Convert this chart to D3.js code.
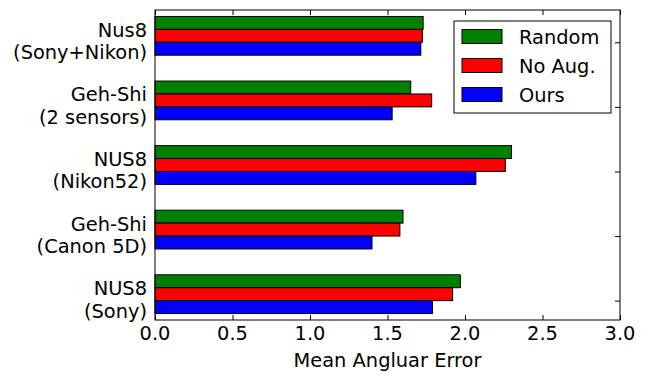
<!DOCTYPE html>
<html>
<head>
<meta charset="utf-8">
<script src="https://cdn.jsdelivr.net/npm/d3@7"></script>
<style>
  body { margin: 0; background: #fff; }
  svg { display: block; overflow: visible; }
  text { font-family: "DejaVu Sans", sans-serif; font-size: 19.4px; fill: #000; }
</style>
</head>
<body>
<div id="chart"></div>
<script>
const width = 645, height = 380;
const margin = { top: 10, right: 25, bottom: 60, left: 155 };
const innerWidth = width - margin.left - margin.right;
const innerHeight = height - margin.top - margin.bottom;

// categories listed bottom to top (matplotlib order)
const categories = [
    ["NUS8", "(Sony)"],
    ["Geh-Shi", "(Canon 5D)"],
    ["NUS8", "(Nikon52)"],
    ["Geh-Shi", "(2 sensors)"],
    ["Nus8", "(Sony+Nikon)"]
];
const seriesNames = ["Random", "No Aug.", "Ours"];
const seriesColours = ["#008000", "#ff0000", "#0000ff"];
const randomVals = [1.97, 1.60, 2.30, 1.65, 1.73];
const noAugVals  = [1.92, 1.58, 2.26, 1.785, 1.725];
const oursVals   = [1.79, 1.40, 2.07, 1.53, 1.715];
const xTicks = [0, 0.5, 1.0, 1.5, 2.0, 2.5, 3.0];

const values = [randomVals, noAugVals, oursVals];
const barH = 0.2;

const svg = d3.select("#chart")
    .append("svg")
    .attr("width", width)
    .attr("height", height);

const inner = svg.append("g")
    .attr("transform", `translate(${margin.left}, ${margin.top})`);

const xScale = d3.scaleLinear().domain([0, 3]).range([0, innerWidth]);
const yScale = d3.scaleLinear().domain([-0.4, 4.4]).range([innerHeight, 0]);

// bars: Random on top, then No Aug., then Ours
values.forEach((vals, s) => {
    inner.append("g")
        .selectAll("rect")
        .data(vals)
        .join("rect")
        .attr("x", xScale(0))
        .attr("y", (d, i) => yScale(i + 0.3 - s * barH))
        .attr("width", d => xScale(d) - xScale(0))
        .attr("height", yScale(0) - yScale(barH))
        .attr("fill", seriesColours[s])
        .attr("stroke", "#000")
        .attr("stroke-width", 1);
});

// tick positions on y (at red/blue boundary)
const yTickVals = categories.map((c, i) => i - 0.1);

// x axes (bottom ticks inward, top ticks only)
const bottomAxis = d3.axisBottom(xScale)
    .tickValues(xTicks)
    .tickFormat("")
    .tickSize(-5);
inner.append("g")
    .attr("transform", `translate(0, ${innerHeight})`)
    .call(bottomAxis)
    .select(".domain").remove();

const topAxis = d3.axisTop(xScale).tickValues(xTicks).tickFormat("").tickSize(-5);
inner.append("g").call(topAxis).select(".domain").remove();

// x tick labels
inner.append("g")
    .selectAll("text")
    .data(xTicks)
    .join("text")
    .attr("x", d => xScale(d))
    .attr("y", innerHeight + 20)
    .attr("text-anchor", "middle")
    .text(d3.format(".1f"));

// y axes
const leftAxis = d3.axisLeft(yScale).tickValues(yTickVals).tickFormat("").tickSize(-5);
inner.append("g").call(leftAxis).select(".domain").remove();
const rightAxis = d3.axisRight(yScale).tickValues(yTickVals).tickFormat("").tickSize(-5);
inner.append("g").attr("transform", `translate(${innerWidth}, 0)`)
    .call(rightAxis).select(".domain").remove();

// y labels (two lines each)
const yLab = inner.append("g");
categories.forEach((c, i) => {
    const t = yScale(i - 0.1);
    yLab.append("text")
        .attr("text-anchor", "end")
        .attr("x", -8)
        .attr("y", t - 5.5)
        .text(c[0]);
    yLab.append("text")
        .attr("text-anchor", "end")
        .attr("x", -8)
        .attr("y", t + 17)
        .text(c[1]);
});

// frame
inner.append("rect")
    .attr("width", innerWidth)
    .attr("height", innerHeight)
    .attr("fill", "none")
    .attr("stroke", "#000")
    .attr("stroke-width", 1);

// x label
svg.append("text")
    .text("Mean Angluar Error")
    .attr("x", margin.left + innerWidth / 2)
    .attr("y", 366.5)
    .attr("text-anchor", "middle");

// legend
const legend = svg.append("g")
    .attr("transform", "translate(454, 21)");
legend.append("rect")
    .attr("width", 157)
    .attr("height", 92)
    .attr("fill", "#fff")
    .attr("stroke", "#000")
    .attr("stroke-width", 1);
seriesNames.forEach((name, i) => {
    const g = legend.append("g")
        .attr("transform", `translate(8, ${8.5 + i * 29})`);
    g.append("rect")
        .attr("width", 40)
        .attr("height", 14)
        .attr("fill", seriesColours[i])
        .attr("stroke", "#000")
        .attr("stroke-width", 1);
    g.append("text")
        .attr("x", 57)
        .attr("y", 14)
        .text(name);
});
</script>
</body>
</html>
